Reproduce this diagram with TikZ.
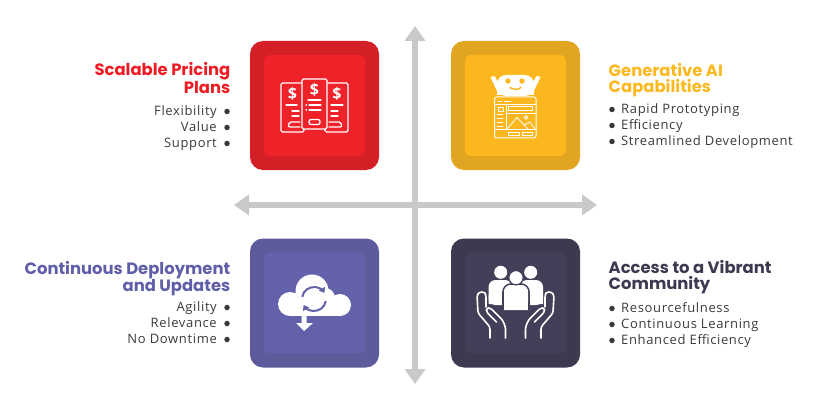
\documentclass[tikz,border=0pt]{standalone}
\usepackage{fontspec}
\setmainfont{Open Sans}[LetterSpace=5]
\newfontfamily\headfont{Poppins}[BoldFont={Poppins Bold}]
\usetikzlibrary{arrows.meta}

\definecolor{redT}{HTML}{ED1C24}
\definecolor{redO}{HTML}{D41F26}
\definecolor{redI}{HTML}{EF2229}
\definecolor{yelT}{HTML}{FBB81F}
\definecolor{yelO}{HTML}{E2A521}
\definecolor{yelI}{HTML}{FDB71E}
\definecolor{purT}{HTML}{5F5EA8}
\definecolor{purO}{HTML}{5D5B9B}
\definecolor{purI}{HTML}{6361A9}
\definecolor{darT}{HTML}{3C3950}
\definecolor{darO}{HTML}{3D3A50}
\definecolor{darI}{HTML}{433F58}
\definecolor{axisC}{HTML}{C9C9C9}
\definecolor{itemC}{HTML}{3A3A3C}

\tikzset{
	axisline/.style={draw=axisC,line width=6.5pt,{Triangle[width=20pt,length=15pt]}-{Triangle[width=20pt,length=15pt]}},
	outerbox/.style={minimum size=129pt,rounded corners=13pt,inner sep=0pt},
	innerbox/.style={minimum size=101pt,rounded corners=6pt,inner sep=0pt},
	headR/.style={anchor=east,align=right,inner sep=0pt,font=\headfont\bfseries\fontsize{16.4}{16.4}\selectfont},
	headL/.style={anchor=west,align=left,inner sep=0pt,font=\headfont\bfseries\fontsize{16.4}{16.4}\selectfont},
	itemR/.style={anchor=base east,text=itemC,inner sep=0pt,font=\fontsize{13}{14}\selectfont},
	itemL/.style={anchor=base west,text=itemC,inner sep=0pt,font=\fontsize{13}{14}\selectfont},
	dotmark/.style={circle,fill=itemC,minimum size=5.5pt,inner sep=0pt},
	icon/.style={draw=white,line width=1.3pt,line cap=round,line join=round},
	thinicon/.style={icon,line width=.8pt}
}

\begin{document}
\begin{tikzpicture}[x=1pt,y=-1pt]
	\useasboundingbox (0,0) rectangle (819,409);

	\coordinate (axisTop) at (415,26);
	\coordinate (axisBot) at (415,384);
	\coordinate (axisLeft) at (234,205);
	\coordinate (axisRight) at (597,205);
	\draw[axisline] (axisTop) -- (axisBot);
	\draw[axisline] (axisLeft) -- (axisRight);

	\node[outerbox,fill=redO] (priceOut) at (314.5,105.5) {};
	\node[innerbox,fill=redI] (priceIn) at (priceOut) {};
	\node[outerbox,fill=yelO] (genOut) at (515.5,105.5) {};
	\node[innerbox,fill=yelI] (genIn) at (genOut) {};
	\node[outerbox,fill=purO] (depOut) at (314.5,303) {};
	\node[innerbox,fill=purI] (depIn) at (depOut) {};
	\node[outerbox,fill=darO] (comOut) at (515.5,303) {};
	\node[innerbox,fill=darI] (comIn) at (comOut) {};

	\node[headR,text=redT] (priceHead) at (230.5,78) {Scalable Pricing\\Plans};
	\node[headL,text=yelT] (genHead) at (608.5,80) {Generative AI\\Capabilities};
	\node[headR,text=purT] (depHead) at (230.5,278.5) {Continuous Deployment\\and Updates};
	\node[headL,text=darT] (comHead) at (608.5,277) {Access to a Vibrant\\Community};

	\node[itemR] (flex) at (217,115.5) {Flexibility};
	\node[itemR] (value) at (217,131.5) {Value};
	\node[itemR] (support) at (217,147.5) {Support};
	\node[itemL] (rapid) at (621,113.5) {Rapid Prototyping};
	\node[itemL] (effic) at (621,129.5) {Efficiency};
	\node[itemL] (stream) at (621,145.5) {Streamlined Development};
	\node[itemR] (agility) at (217,311.5) {Agility};
	\node[itemR] (relev) at (217,327.5) {Relevance};
	\node[itemR] (nodown) at (217,343.5) {No Downtime};
	\node[itemL] (resource) at (621,312.5) {Resourcefulness};
	\node[itemL] (contin) at (621,328.5) {Continuous Learning};
	\node[itemL] (enhance) at (621,344.5) {Enhanced Efficiency};

	\foreach \y in {111.5,127.5,143.5,307.5,323.5,339.5}
		\node[dotmark] at (227,\y) {};
	\foreach \y in {109.5,125.5,141.5,308.5,324.5,340.5}
		\node[dotmark] at (612,\y) {};

	\foreach \xa/\ya/\xb/\yb in {281/83/304/132,325/83/348/132}
		\draw[icon,rounded corners=1.5pt] (\xa,\ya) rectangle (\xb,\yb);
	\draw[icon,rounded corners=1.5pt,fill=redI] (302,79) rectangle (327,129);
	\foreach \x/\y/\k in {292.5/94/a,314.5/90/b,337/94/c}
		\node[text=white,inner sep=0pt,font=\bfseries\fontsize{16}{16}\selectfont] (dollar\k) at (\x,\y) {\$};
	\draw[icon] (286,105) -- (297,105) (331,105) -- (343,105) (308,100) -- (321,100);
	\draw[icon] (292,111) -- (299,111) (292,116) -- (299,116) (331,111) -- (338,111) (331,116) -- (338,116);
	\draw[icon] (309,105) -- (321,105) (309,110) -- (321,110) (306,105) -- (306.5,105) (306,110) -- (306.5,110);
	\draw[icon,rounded corners=2pt] (309,119.5) rectangle (320,124.5);
	\draw[icon,rounded corners=2pt] (300,122) -- (289,122) -- (288,127) -- (300,127);
	\draw[icon,rounded corners=2pt] (329,122) -- (341,122) -- (342,127) -- (329,127);

	\fill[white,rounded corners=9pt] (497,96) -- (497,75) -- (534,75) -- (534,96) -- cycle;
	\fill[white] (490.5,77) -- (494.5,76) -- (499,84) -- (497,91) -- cycle;
	\fill[white] (540.5,77) -- (536.5,76) -- (532,84) -- (534,91) -- cycle;
	\fill[white] (497,88) rectangle (534,95);
	\fill[yelI] (508,81) circle (2.7) (522,81) circle (2.7);
	\draw[yelI,line width=1.5pt,line cap=round] (510,87.5) .. controls (514,90) and (518,90) .. (521,87.5);
	\draw[icon,line width=1pt,rounded corners=2pt] (494.5,97) rectangle (536,138);
	\draw[thinicon] (498,101.5) -- (502,101.5) (504,101.5) -- (511,101.5);
	\draw[thinicon] (494.5,104.5) -- (536,104.5) (506,104.5) -- (506,129) (494.5,129) -- (536,129) (506,113) -- (536,113);
	\draw[thinicon] (508,106.5) rectangle (532,110) (498.5,107) rectangle (503,111.5);
	\foreach \y in {114,118,122,126}
		\draw[thinicon] (497,\y) -- (503,\y);
	\draw[thinicon] (507,129) -- (517,117.5) -- (528,129) (524,125) -- (530,122) -- (535,129);
	\draw[thinicon] (526,117.5) circle (1.8);
	\draw[thinicon] (508,132) rectangle (519,135.5) (522,132) rectangle (532,135.5);

	\fill[white] (290,304) circle (12) (312,291) circle (16.5) (340,305) circle (11) (325,298) circle (10);
	\fill[white] (290,300) rectangle (340,316);
	\fill[white] (301.5,314) rectangle (306.5,323) (296,323) -- (313,323) -- (304,331) -- cycle;
	\draw[purI,line width=2pt,-{Triangle[width=7pt,length=5pt]}] (314,299) ++(-170:12) arc (-170:-30:12);
	\draw[purI,line width=2pt,-{Triangle[width=7pt,length=5pt]}] (314,299) ++(10:12) arc (10:150:12);

	\fill[white] (500.7,272.3) circle (6.5) (530.7,272.3) circle (6.5);
	\fill[white,rounded corners=7pt] (488.5,305) -- (488.5,280) -- (512,280) -- (512,305) -- cycle;
	\fill[white,rounded corners=7pt] (520,305) -- (520,280) -- (543,280) -- (543,305) -- cycle;
	\fill[white] (488.5,295) rectangle (503,304) (529,295) rectangle (543,304);
	\draw[darI,line width=1.6pt,fill=white,rounded corners=8pt] (503,310) -- (503,284) -- (529,284) -- (529,310);
	\fill[white,rounded corners=7pt] (504,309) -- (504,285) -- (528,285) -- (528,309) -- cycle;
	\draw[fill=white,draw=darI,line width=1.2pt] (516,277.7) circle (7.2);
	\foreach \s in {1,-1}{
		\begin{scope}[shift={(515.5,0)},xscale=\s]
			\draw[icon,line width=1.6pt,rounded corners=2.5pt] (-25.5,338) -- (-25.5,327) -- (-37.5,313) -- (-38.5,295) -- (-36,292) -- (-31,292) -- (-29.5,295) -- (-29.5,307);
			\draw[icon,line width=1.6pt,rounded corners=2.5pt] (-10,338) -- (-10,327) -- (-13,320) -- (-25,308) -- (-29,308) -- (-29,312) -- (-19,322);
		\end{scope}
	}
\end{tikzpicture}
\end{document}
